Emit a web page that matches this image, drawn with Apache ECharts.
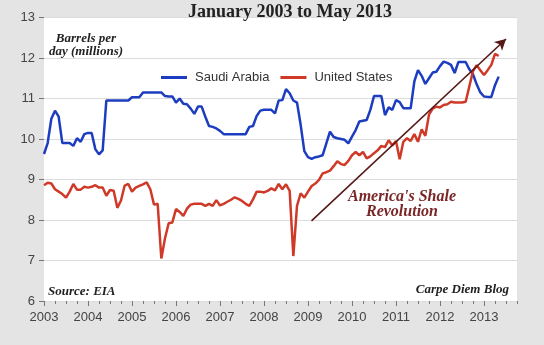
<!DOCTYPE html>
<html>
<head>
<meta charset="utf-8">
<script src="https://cdn.jsdelivr.net/npm/echarts@6/dist/echarts.min.js"></script>
<style>
  html, body { margin: 0; padding: 0; background: #e4e4e4; }
  #chart { width: 544px; height: 345px; }
</style>
</head>
<body>
<div id="chart"></div>
<script>
// ---- Data (monthly, Jan 2003 .. May 2013), million barrels per day ----
const startYear = 2003;
const axisEndYear = 2013.75;
const yearLabels = [2003, 2004, 2005, 2006, 2007, 2008, 2009, 2010, 2011, 2012, 2013];
const seriesNames = ['Saudi Arabia', 'United States'];

const saudiArabia = [
  9.63, 9.9, 10.5, 10.7, 10.55, 9.9, 9.9, 9.9, 9.83, 10.02, 9.93, 10.12,
  10.15, 10.15, 9.75, 9.62, 9.72, 10.95, 10.95, 10.95, 10.95, 10.95, 10.95, 10.95,
  11.03, 11.03, 11.03, 11.15, 11.15, 11.15, 11.15, 11.15, 11.15, 11.06, 11.05, 11.05,
  10.9, 11.0, 10.87, 10.86, 10.75, 10.62, 10.8, 10.8, 10.55, 10.32, 10.3, 10.26,
  10.2, 10.12, 10.12, 10.12, 10.12, 10.12, 10.12, 10.12, 10.3, 10.32, 10.57, 10.7,
  10.72, 10.72, 10.72, 10.63, 10.95, 10.96, 11.23, 11.13, 10.95, 10.9, 10.35, 9.7,
  9.55, 9.51, 9.55, 9.57, 9.6, 9.89, 10.18, 10.05, 10.02, 10.0, 9.98, 9.89,
  10.06, 10.22, 10.43, 10.45, 10.47, 10.72, 11.06, 11.06, 11.06, 10.59, 10.78, 10.72,
  10.96, 10.91, 10.76, 10.76, 10.76, 11.42, 11.7, 11.56, 11.36, 11.5, 11.64, 11.66,
  11.8, 11.91, 11.88, 11.83, 11.63, 11.9, 11.9, 11.9, 11.72, 11.6, 11.35, 11.15,
  11.05, 11.04, 11.04, 11.33, 11.54
];

const unitedStates = [
  8.86, 8.92, 8.9, 8.76, 8.7, 8.64, 8.55, 8.7, 8.89, 8.75, 8.75, 8.82,
  8.8, 8.82, 8.86, 8.8, 8.8, 8.6, 8.74, 8.72, 8.3, 8.48, 8.85, 8.89,
  8.7, 8.8, 8.84, 8.88, 8.93, 8.76, 8.38, 8.4, 7.05, 7.55, 7.92, 7.94,
  8.27, 8.2, 8.1, 8.28, 8.38, 8.4, 8.4, 8.4, 8.35, 8.4, 8.35, 8.49,
  8.36, 8.4, 8.45, 8.5, 8.56, 8.52, 8.47, 8.4, 8.35, 8.51, 8.7, 8.7,
  8.68, 8.72, 8.78, 8.73, 8.89, 8.76, 8.88, 8.72, 7.11, 8.35, 8.66, 8.55,
  8.7, 8.84, 8.9, 8.99, 9.15, 9.18, 9.22, 9.33, 9.45, 9.38, 9.36, 9.46,
  9.6, 9.68, 9.6, 9.68, 9.52, 9.57, 9.65, 9.72, 9.83, 9.8, 9.97, 9.84,
  9.95, 9.5, 9.93, 10.02, 9.95, 10.12, 9.93, 10.24, 10.08, 10.6, 10.75, 10.8,
  10.78, 10.84, 10.86, 10.92, 10.9, 10.9, 10.9, 10.92, 11.3, 11.68, 11.82, 11.7,
  11.58, 11.7, 11.83, 12.1, 12.05
];

// annotation arrow ("America's Shale Revolution"), in data units [year, mb/d]
const arrowStart = [2009.08, 7.98];
const arrowEnd = [2013.5, 12.47];

const toPairs = arr => arr.map((v, i) => [startYear + i / 12, v]);

const serif = '"Liberation Serif", "DejaVu Serif", serif';
const sans = '"Liberation Sans", Arial, sans-serif';

const chart = echarts.init(document.getElementById('chart'), null, { renderer: 'canvas' });

const gridCfg = { left: 44, right: 27, top: 17.5, bottom: 44, show: true, backgroundColor: '#ffffff', borderWidth: 0, containLabel: false };

chart.setOption({
  backgroundColor: '#e4e4e4',
  animation: false,
  title: {
    text: 'January 2003 to May 2013',
    left: 285, top: -2, textAlign: 'center',
    textStyle: { fontFamily: serif, fontWeight: 'bold', fontSize: 18, color: '#222' }
  },
  legend: {
    data: seriesNames,
    left: 156, top: 66,
    icon: 'rect', itemWidth: 26, itemHeight: 3, itemGap: 11,
    textStyle: { fontFamily: sans, fontSize: 13, color: '#333', padding: [0, 0, 0, 3] }
  },
  grid: gridCfg,
  xAxis: [
    {
      type: 'value', min: startYear, max: axisEndYear, interval: 0.25,
      axisLine: { show: false },
      axisTick: { show: true, length: 3, lineStyle: { color: '#777', width: 1 } },
      axisLabel: {
        margin: 10, fontFamily: sans, fontSize: 13, color: '#444',
        formatter: v => (Math.abs(v - Math.round(v)) < 1e-6 && yearLabels.includes(Math.round(v))) ? String(Math.round(v)) : ''
      },
      splitLine: { show: false }
    },
    {
      type: 'value', min: startYear, max: axisEndYear, position: 'bottom',
      axisLine: { show: false },
      axisTick: { show: true, length: 5, customValues: yearLabels, lineStyle: { color: '#777', width: 1 } },
      axisLabel: { show: false },
      splitLine: { show: false }
    }
  ],
  yAxis: {
    type: 'value', min: 6, max: 13, interval: 1,
    axisLine: { show: false },
    axisTick: { show: true, length: 5, lineStyle: { color: '#777' } },
    axisLabel: { margin: 9, fontFamily: sans, fontSize: 13, color: '#444' },
    splitLine: { lineStyle: { color: '#dcdcdc', width: 1 } }
  },
  graphic: [
    { type: 'text', x: 86, y: 39, style: { text: 'Barrels per', x: 0, y: 0, align: 'center', verticalAlign: 'middle', font: 'italic bold 13px ' + serif, fill: '#222' } },
    { type: 'text', x: 86, y: 52, style: { text: 'day (millions)', x: 0, y: 0, align: 'center', verticalAlign: 'middle', font: 'italic bold 13px ' + serif, fill: '#222' } },
    { type: 'text', x: 402, y: 197, style: { text: "America's Shale", x: 0, y: 0, align: 'center', verticalAlign: 'middle', font: 'italic bold 16px ' + serif, fill: '#7a2626' } },
    { type: 'text', x: 402, y: 212, style: { text: 'Revolution', x: 0, y: 0, align: 'center', verticalAlign: 'middle', font: 'italic bold 16px ' + serif, fill: '#7a2626' } },
    { type: 'text', x: 48, y: 292, style: { text: 'Source: EIA', x: 0, y: 0, align: 'left', verticalAlign: 'middle', font: 'italic bold 13px ' + serif, fill: '#222' } },
    { type: 'text', x: 509, y: 290, style: { text: 'Carpe Diem Blog', x: 0, y: 0, align: 'right', verticalAlign: 'middle', font: 'italic bold 13px ' + serif, fill: '#222' } }
  ],
  series: [
    {
      name: seriesNames[0], type: 'line', xAxisIndex: 0, data: toPairs(saudiArabia),
      showSymbol: false, symbol: 'none', color: '#1c3dbf',
      lineStyle: { width: 2.5, color: '#1c3dbf' }
    },
    {
      name: seriesNames[1], type: 'line', xAxisIndex: 0, data: toPairs(unitedStates),
      showSymbol: false, symbol: 'none', color: '#cf3a28',
      lineStyle: { width: 2.5, color: '#cf3a28' },
      markLine: {
        silent: true, symbol: ['none', 'arrow'], symbolSize: [9, 11],
        lineStyle: { color: '#561818', width: 1.6, type: 'solid' },
        label: { show: false },
        data: [[{ coord: arrowStart }, { coord: arrowEnd }]]
      }
    }
  ]
});
</script>
</body>
</html>
